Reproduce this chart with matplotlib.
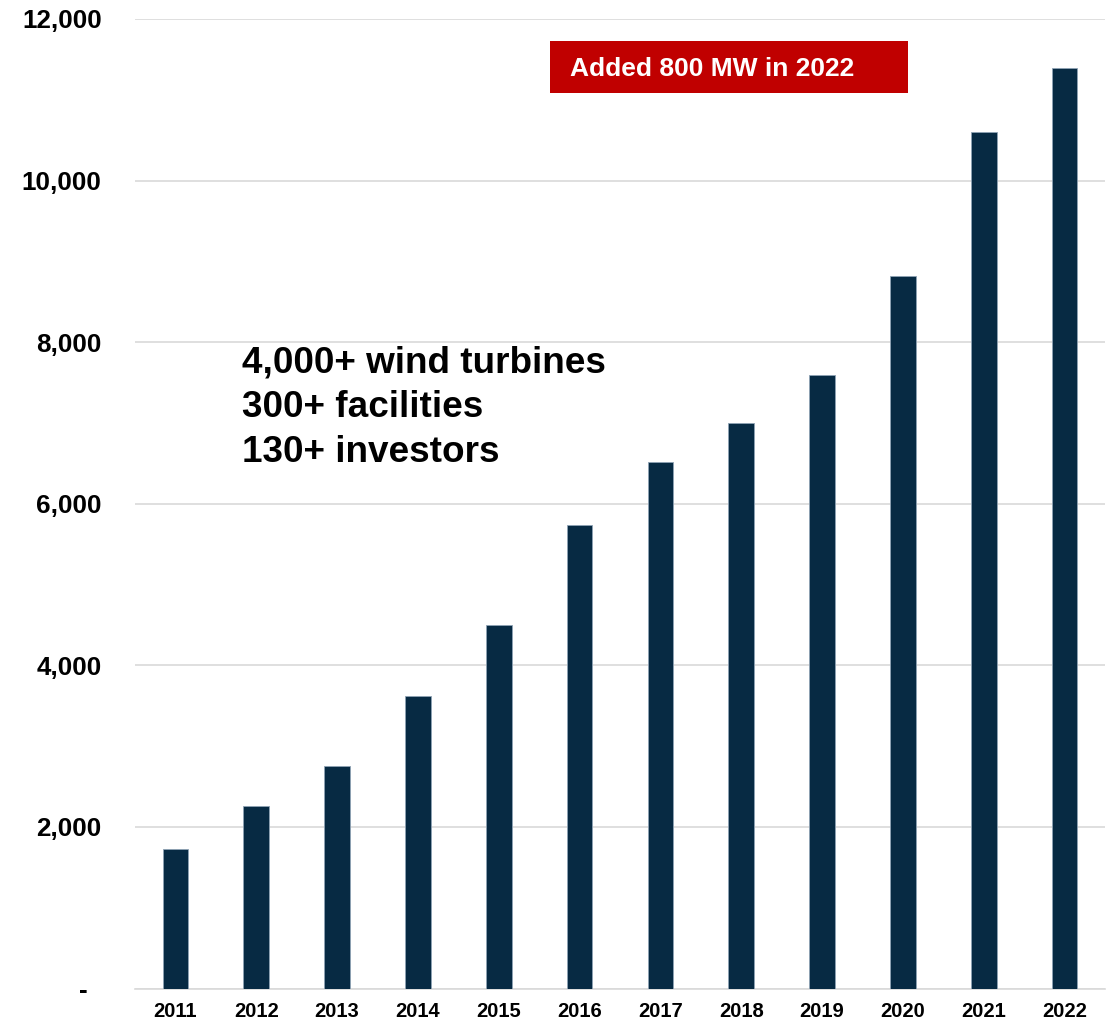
import matplotlib
matplotlib.use("Agg")
import matplotlib.pyplot as plt
from matplotlib.patches import Rectangle
from matplotlib.ticker import FixedLocator, FixedFormatter

# Cumulative installed capacity (MW) by year
years = ["2011", "2012", "2013", "2014", "2015", "2016",
         "2017", "2018", "2019", "2020", "2021", "2022"]
capacity_mw = [1730, 2260, 2760, 3625, 4500, 5740,
               6515, 7000, 7590, 8825, 10600, 11390]

y_ticks = [0, 2000, 4000, 6000, 8000, 10000, 12000]
y_tick_labels = ["-  ", "2,000", "4,000", "6,000", "8,000", "10,000", "12,000"]

highlights = ["4,000+ wind turbines", "300+ facilities", "130+ investors"]
banner = "Added 800 MW in 2022"

plt.rcParams["font.family"] = ["Liberation Sans", "DejaVu Sans"]
plt.rcParams["font.weight"] = "bold"

W, H = 1115, 1023
fig = plt.figure(figsize=(W / 100, H / 100), dpi=100)
ax = fig.add_axes([135 / W, 1 - 988.5 / H, 970 / W, (988.5 - 19) / H])

x = list(range(len(years)))
ax.bar(x, capacity_mw, width=0.316, color="#072A43",
       edgecolor="#8FA3B5", linewidth=0.6, zorder=3)

ax.set_xlim(-0.5, len(years) - 0.5)
ax.set_ylim(0, 12000)

ax.yaxis.set_major_locator(FixedLocator(y_ticks))
ax.yaxis.set_major_formatter(FixedFormatter(y_tick_labels))
ax.set_xticks(x)
ax.set_xticklabels(years)

ax.tick_params(axis="y", length=0, pad=24, labelsize=18.7)
ax.tick_params(axis="x", length=0, pad=10, labelsize=14.5)
for lbl in ax.get_yticklabels() + ax.get_xticklabels():
    lbl.set_fontweight("bold")

ax.grid(axis="y", color="#D9D9D9", linewidth=1.2, zorder=0)
for side in ["top", "right", "left"]:
    ax.spines[side].set_visible(False)
ax.spines["bottom"].set_color("#D9D9D9")
ax.spines["bottom"].set_linewidth(1.2)

# Red banner
fig.patches.append(Rectangle((550 / W, 1 - 92.5 / H), 358 / W, 51.5 / H,
                             transform=fig.transFigure, facecolor="#C00000",
                             edgecolor="none", zorder=5))
fig.text(570 / W, 1 - 76 / H, banner, color="white", fontsize=19,
         fontweight="bold", ha="left", va="baseline", zorder=6)

# Highlight facts
for line, base in zip(highlights, [372.3, 416.7, 461.7]):
    fig.text(242 / W, 1 - base / H, line, color="black", fontsize=26.6,
             fontweight="bold", ha="left", va="baseline")

fig.savefig("out.png", dpi=100)
